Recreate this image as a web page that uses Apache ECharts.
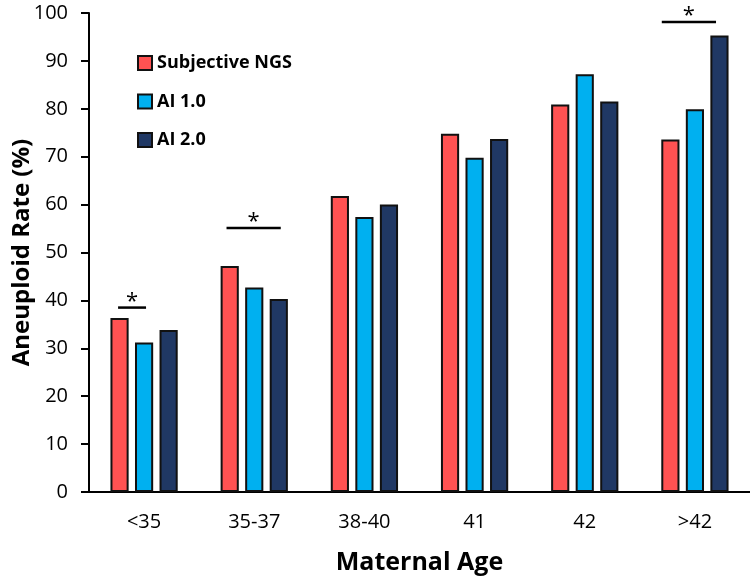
<!DOCTYPE html>
<html>
<head>
<meta charset="utf-8">
<script src="https://cdn.jsdelivr.net/npm/echarts@6/dist/echarts.min.js"></script>
<style>html,body{margin:0;padding:0;background:#fff;}#c{width:750px;height:582px;}</style>
</head>
<body>
<div id="c"></div>
<script>
var categories = ['<35', '35-37', '38-40', '41', '42', '>42'];
var subjectiveNGS = [36.3, 47.2, 61.8, 74.8, 80.9, 73.6];
var ai10 = [31.2, 42.7, 57.4, 69.8, 87.2, 79.9];
var ai20 = [33.8, 40.3, 60.0, 73.7, 81.5, 95.3];
var yTicks = [0, 10, 20, 30, 40, 50, 60, 70, 80, 90, 100];
// significance brackets: category, level, span start/end in bar steps from group centre
var sigCats = ['<35', '35-37', '>42'];
var sigLevels = [38.5, 55.1, 98.1];
var sigFrom = [-1.06, -1.13, -1.35];
var sigTo = [0.08, 1.08, 0.86];

var FONT = 'Open Sans';
var BAR_FRAC = 0.165, BAR_GAP = 0.35;

var chart = echarts.init(document.getElementById('c'), null, {renderer: 'canvas'});
function barSeries(name, data, color) {
  return {
    name: name, type: 'bar', data: data,
    barWidth: (BAR_FRAC * 100) + '%', barGap: (BAR_GAP * 100) + '%',
    itemStyle: {color: color, borderColor: '#111', borderWidth: 2},
    emphasis: {disabled: true}
  };
}
var sigData = sigCats.map(function (c, i) { return [c, sigLevels[i], sigFrom[i], sigTo[i]]; });
chart.setOption({
  animation: false,
  grid: {left: 89, right: 0, top: 13, bottom: 90, containLabel: false, outerBoundsMode: 'none'},
  legend: {
    data: ['Subjective NGS', 'AI 1.0', 'AI 2.0'],
    orient: 'vertical', left: 132, top: 49,
    icon: 'rect', itemWidth: 14, itemHeight: 14, itemGap: 20.5,
    textStyle: {fontFamily: FONT, fontWeight: 'bold', fontSize: 18, color: '#000'}
  },
  xAxis: {
    type: 'category', data: categories,
    axisLine: {lineStyle: {color: '#000', width: 2}},
    axisTick: {show: false},
    axisLabel: {color: '#000', fontFamily: FONT, fontSize: 20, margin: 20},
    name: 'Maternal Age', nameLocation: 'middle', nameGap: 58, nameMoveOverlap: false,
    nameTextStyle: {color: '#000', fontFamily: FONT, fontWeight: 'bold', fontSize: 25}
  },
  yAxis: {
    type: 'value', min: 0, max: 100, interval: 10,
    axisLine: {show: true, lineStyle: {color: '#000', width: 2}},
    axisTick: {show: true, inside: false, length: 8, lineStyle: {color: '#000', width: 2}},
    splitLine: {show: false},
    axisLabel: {color: '#000', fontFamily: FONT, fontSize: 20, margin: 21},
    name: 'Aneuploid Rate (%)', nameLocation: 'middle', nameGap: 55, nameMoveOverlap: false,
    nameTextStyle: {color: '#000', fontFamily: FONT, fontWeight: 'bold', fontSize: 24}
  },
  series: [
    barSeries('Subjective NGS', subjectiveNGS, '#FF5252'),
    barSeries('AI 1.0', ai10, '#00B0F0'),
    barSeries('AI 2.0', ai20, '#203864'),
    {
      type: 'custom', name: 'sig', data: sigData, z: 10, silent: true,
      renderItem: function (params, api) {
        var p = api.coord([api.value(0), api.value(1)]);
        var band = api.size([1, 0])[0];
        var step = band * BAR_FRAC * (1 + BAR_GAP);
        var x1 = p[0] + api.value(2) * step, x2 = p[0] + api.value(3) * step;
        return {type: 'group', children: [
          {type: 'line', shape: {x1: x1, y1: p[1], x2: x2, y2: p[1]}, style: {stroke: '#000', lineWidth: 2.5}},
          {type: 'text', x: (x1 + x2) / 2, y: p[1] + 5, style: {text: '*', fontSize: 22, fontFamily: FONT, fill: '#000', align: 'center', verticalAlign: 'bottom'}}
        ]};
      }
    }
  ]
});
</script>
</body>
</html>
